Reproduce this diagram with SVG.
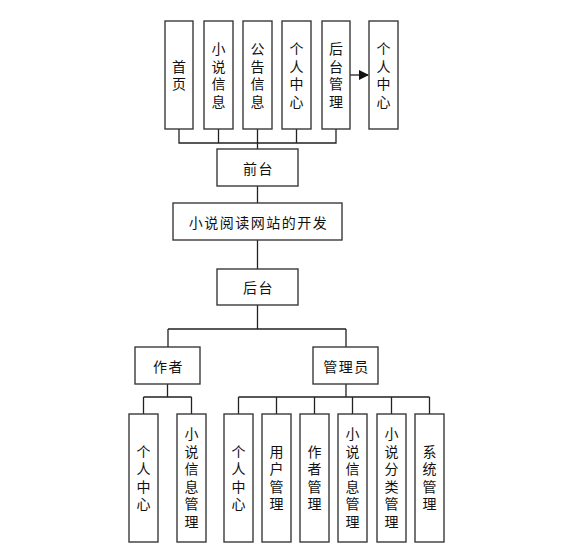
<svg xmlns="http://www.w3.org/2000/svg" width="566" height="550" viewBox="0 0 566 550">
<style>
.b{fill:#fff;stroke:#3a3a3a;stroke-width:1.4}
.t{font-family:"Noto Sans CJK SC","Liberation Sans",sans-serif;font-size:14px;fill:#111;text-anchor:middle;dominant-baseline:central}
.h{letter-spacing:1.5px}
.v{writing-mode:vertical-rl;letter-spacing:3.5px}
.c{fill:none;stroke:#222;stroke-width:1.3}
</style>
<defs>
<marker id="ah" markerWidth="10" markerHeight="10" refX="9" refY="5" orient="auto" markerUnits="userSpaceOnUse">
<path d="M0,0 L10,5 L0,10 Z" fill="#111"/>
</marker>
</defs>
<rect width="566" height="550" fill="#fff"/>
<g id="connectors">
<path class="c" d="M179,129 V143 H336 V129 M218.5,129 V143 M257.5,129 V143 M296.5,129 V143 M257.5,143 V149"/>
<path class="c" d="M350,75 H368" marker-end="url(#ah)"/>
<path class="c" d="M257.5,186 V203 M257.5,240 V269 M257.5,305 V329 M168,329 H346 M168,329 V347 M346,329 V347"/>
<path class="c" d="M167.5,384 V397 M143.5,397 H191.5 M143.5,397 V414 M191.5,397 V414"/>
<path class="c" d="M346,384 V397 M238.5,397 H429.5 M238.5,397 V414 M276.5,397 V414 M314.5,397 V414 M352.5,397 V414 M391.5,397 V414 M429.5,397 V414"/>
</g>
<g id="n-shouye"><rect class="b" x="165" y="21" width="28" height="108"/><text class="t v" x="179" y="77">首页</text></g>
<g id="n-xiaoshuoxinxi"><rect class="b" x="204" y="21" width="29" height="108"/><text class="t v" x="218.5" y="77">小说信息</text></g>
<g id="n-gonggao"><rect class="b" x="243" y="21" width="29" height="108"/><text class="t v" x="257.5" y="77">公告信息</text></g>
<g id="n-gerenzhongxin1"><rect class="b" x="282" y="21" width="29" height="108"/><text class="t v" x="296.5" y="77">个人中心</text></g>
<g id="n-houtaiguanli"><rect class="b" x="322" y="21" width="28" height="108"/><text class="t v" x="336" y="77">后台管理</text></g>
<g id="n-gerenzhongxin2"><rect class="b" x="369" y="21" width="29" height="108"/><text class="t v" x="383.5" y="77">个人中心</text></g>
<g id="n-qiantai"><rect class="b" x="217" y="149" width="81" height="37"/><text class="t h" x="258.5" y="167.5">前台</text></g>
<g id="n-root"><rect class="b" x="173" y="203" width="169" height="37"/><text class="t h" x="258.5" y="221.5">小说阅读网站的开发</text></g>
<g id="n-houtai"><rect class="b" x="217" y="269" width="81" height="36"/><text class="t h" x="258.5" y="287">后台</text></g>
<g id="n-zuozhe"><rect class="b" x="135" y="347" width="65" height="37"/><text class="t h" x="168.5" y="365.5">作者</text></g>
<g id="n-guanliyuan"><rect class="b" x="313" y="347" width="65" height="37"/><text class="t h" x="346.5" y="365.5">管理员</text></g>
<g id="n-a-geren"><rect class="b" x="129" y="414" width="29" height="128"/><text class="t v" x="143.5" y="479.5">个人中心</text></g>
<g id="n-a-xiaoshuo"><rect class="b" x="177" y="414" width="29" height="128"/><text class="t v" x="191.5" y="479.5">小说信息管理</text></g>
<g id="n-m-geren"><rect class="b" x="224" y="414" width="29" height="128"/><text class="t v" x="238.5" y="479.5">个人中心</text></g>
<g id="n-m-yonghu"><rect class="b" x="262" y="414" width="29" height="128"/><text class="t v" x="276.5" y="479.5">用户管理</text></g>
<g id="n-m-zuozhe"><rect class="b" x="300" y="414" width="29" height="128"/><text class="t v" x="314.5" y="479.5">作者管理</text></g>
<g id="n-m-xiaoshuo"><rect class="b" x="338" y="414" width="29" height="128"/><text class="t v" x="352.5" y="479.5">小说信息管理</text></g>
<g id="n-m-fenlei"><rect class="b" x="377" y="414" width="29" height="128"/><text class="t v" x="391.5" y="479.5">小说分类管理</text></g>
<g id="n-m-xitong"><rect class="b" x="415" y="414" width="29" height="128"/><text class="t v" x="429.5" y="479.5">系统管理</text></g>
</svg>
